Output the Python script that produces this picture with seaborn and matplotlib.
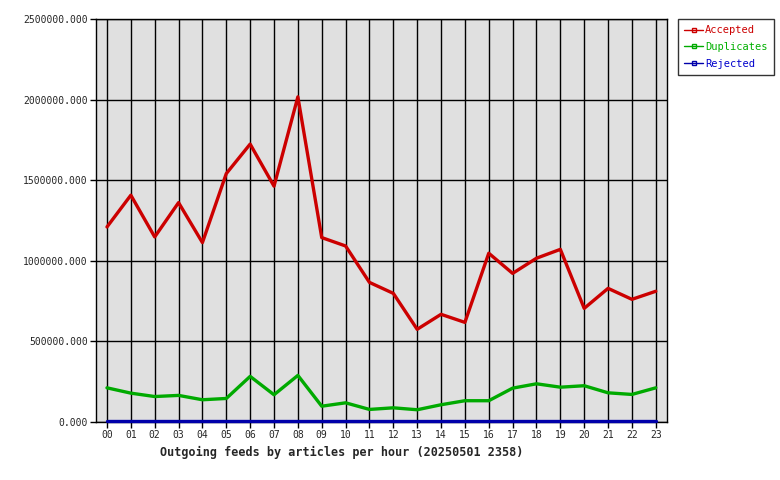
import matplotlib
matplotlib.use("Agg")
import matplotlib.pyplot as plt
import seaborn as sns
import pandas as pd
from matplotlib.lines import Line2D
from matplotlib.ticker import FormatStrFormatter

hours = ["00", "01", "02", "03", "04", "05", "06", "07", "08", "09", "10", "11",
         "12", "13", "14", "15", "16", "17", "18", "19", "20", "21", "22", "23"]
accepted = [1210000, 1407000, 1148000, 1361000, 1113000, 1541000, 1724000, 1463000,
            2017000, 1144000, 1092000, 866000, 798000, 575000, 668000, 618000,
            1047000, 922000, 1016000, 1071000, 705000, 829000, 761000, 811000]
duplicates = [212000, 179000, 158000, 165000, 138000, 146000, 283000, 169000,
              289000, 98000, 119000, 78000, 88000, 76000, 107000, 132000,
              132000, 210000, 237000, 216000, 225000, 181000, 171000, 212000]
rejected = [6000, 6000, 6000, 6000, 6000, 6000, 6000, 6000, 6000, 6000, 6000, 6000,
            6000, 6000, 6000, 6000, 6000, 6000, 6000, 6000, 6000, 6000, 6000, 6000]
series_names = ["Accepted", "Duplicates", "Rejected"]
y_ticks = [0, 500000, 1000000, 1500000, 2000000, 2500000]
title = "Outgoing feeds by articles per hour (20250501 2358)"

line_colors = {"Accepted": "#cc0000", "Duplicates": "#00aa00", "Rejected": "#0000aa"}
text_colors = {"Accepted": "#cc0000", "Duplicates": "#00b000", "Rejected": "#0000cc"}

rows = []
for name, vals in zip(series_names, [accepted, duplicates, rejected]):
    for i, v in enumerate(vals):
        rows.append({"hour": i, "value": v, "series": name})
df = pd.DataFrame(rows)

sns.set_style("white")
plt.rcParams["font.family"] = ["DejaVu Sans Mono", "DejaVu Sans"]

fig = plt.figure(figsize=(7.8, 4.8), dpi=100)
ax = fig.add_axes([96 / 780, 1 - 422 / 480, (667 - 96) / 780, (422 - 19) / 480])
ax.set_facecolor("#e0e0e0")

sns.lineplot(data=df, x="hour", y="value", hue="series", palette=line_colors,
             hue_order=series_names, linewidth=2.4, ax=ax, legend=False,
             zorder=3)
for ln in ax.get_lines():
    ln.set_clip_on(False)
    ln.set_zorder(3)

ax.set_xlim(-0.46, 23.47)
ax.set_ylim(0, 2500000)
ax.set_xticks(range(len(hours)))
ax.set_xticklabels(hours)
ax.set_yticks(y_ticks)
ax.yaxis.set_major_formatter(FormatStrFormatter("%.3f"))
ax.grid(True, color="black", linewidth=1.0)
ax.set_axisbelow(True)
ax.tick_params(axis="both", which="major", direction="out", length=4, width=1,
               color="black", labelsize=7, pad=2, left=True, bottom=True)
for s in ax.spines.values():
    s.set_color("black")
    s.set_linewidth(1.0)
    s.set_zorder(2)
ax.set_xlabel("")
ax.set_ylabel("")

fig.text(342 / 780, 1 - 452 / 480, title, ha="center", va="center",
         fontsize=8.5, fontweight="bold")

handles = [Line2D([0], [0], color=line_colors[n], lw=1, marker="s", ms=3,
                  mfc="none", mec=line_colors[n], mew=1) for n in series_names]
leg = fig.legend(handles, series_names, loc="upper left",
                 bbox_to_anchor=(678 / 780, 1 - 19 / 480), frameon=True,
                 fontsize=7.5, handlelength=1.8, handletextpad=0.2,
                 borderpad=0.6, labelspacing=0.65, numpoints=1, fancybox=False,
                 borderaxespad=0)
leg.get_frame().set_edgecolor("black")
leg.get_frame().set_linewidth(1.0)
for t, n in zip(leg.get_texts(), series_names):
    t.set_color(text_colors[n])

fig.savefig("out.png", dpi=100, facecolor="white")
